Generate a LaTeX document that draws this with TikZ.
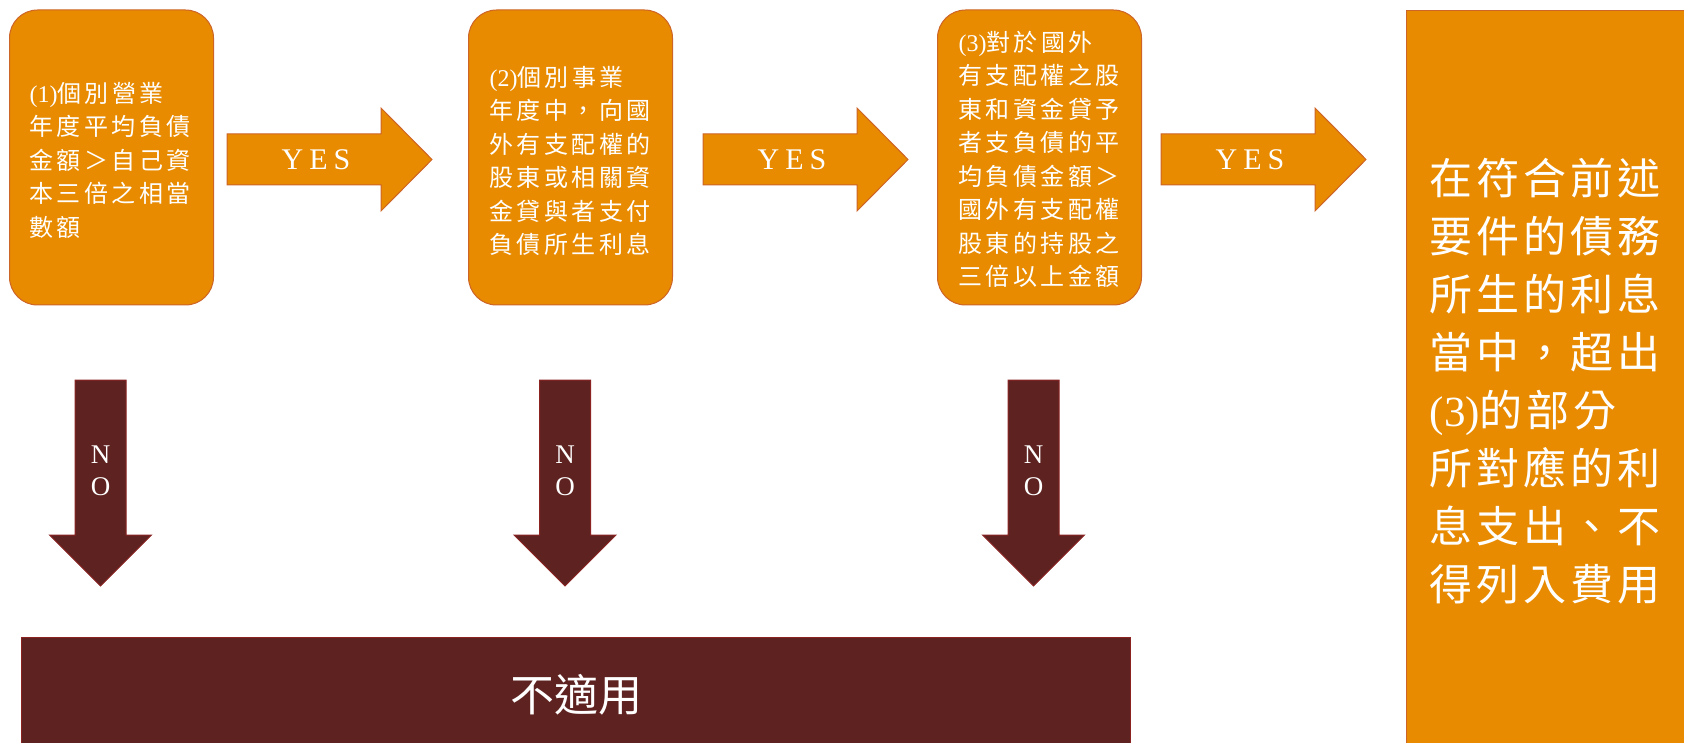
\documentclass[tikz,border=0pt]{standalone}
\usepackage{fontspec}
\newfontfamily\cjkbox[LetterSpace=14]{Noto Sans CJK TC}
\newfontfamily\cjkbig[LetterSpace=9]{Noto Sans CJK TC}
\newfontfamily\cjkplain{Noto Sans CJK TC}
\newfontfamily\latser{Liberation Serif}
\definecolor{ofill}{RGB}{232,139,0}
\definecolor{oline}{RGB}{205,100,40}
\definecolor{dfill}{RGB}{94,35,33}
\definecolor{dline}{RGB}{140,35,35}
\tikzset{
  obox/.style={draw=oline, fill=ofill, line width=1pt, rounded corners=28pt, inner sep=0pt,
    minimum width=204pt, minimum height=295pt},
  boxtext/.style={text=white, align=left, inner sep=0pt, font=\cjkbox\fontsize{24}{33.5}\selectfont},
  bigtext/.style={text=white, align=left, inner sep=0pt, font=\cjkbig\fontsize{43}{58}\selectfont},
  yeslabel/.style={text=white, inner sep=0pt, font=\latser\fontsize{30}{30}\selectfont},
  nolabel/.style={text=white, inner sep=0pt, align=center, font=\latser\fontsize{27}{32}\selectfont},
  yesarrow/.pic={
    \fill[fill=ofill, draw=oline, line width=1pt] (0,-25.5) -- (154,-25.5) -- (154,-51.5) -- (205,0)
      -- (154,51.5) -- (154,25.5) -- (0,25.5) -- cycle;
    \node[yeslabel] (-label) at (89,0) {Y\hspace{6pt}E\hspace{6pt}S};
  },
  noarrow/.pic={
    \fill[fill=dfill, draw=dline, line width=1pt] (-25.5,0) -- (25.5,0) -- (25.5,155) -- (51,155)
      -- (0,206) -- (-51,155) -- (-25.5,155) -- cycle;
    \node[nolabel] (-label) at (0,91) {N\\O};
  }
}
\begin{document}
\begin{tikzpicture}[x=1pt,y=-1pt]
\useasboundingbox (0,0) rectangle (1684,743);
% condition boxes
\node[obox] (b1) at (111.5,157.5) {};
\node[boxtext] (t1) at (110,160) {{\latser (1)}個別營業\\年度平均負債\\金額＞自己資\\本三倍之相當\\數額};
\node[obox] (b2) at (570.5,157.5) {};
\node[boxtext] (t2) at (570,161) {{\latser (2)}個別事業\\年度中，向國\\外有支配權的\\股東或相關資\\金貸與者支付\\負債所生利息};
\node[obox] (b3) at (1039.5,157.5) {};
\node[boxtext] (t3) at (1039,159.5) {{\latser (3)}對於國外\\有支配權之股\\東和資金貸予\\者支負債的平\\均負債金額＞\\國外有支配權\\股東的持股之\\三倍以上金額};
% result box
\node[draw=oline, fill=ofill, line width=1pt, minimum width=282pt, minimum height=745pt,
  inner sep=0pt, anchor=north west] (res) at (1406,10) {};
\node[bigtext] (rt) at (1545,381) {在符合前述\\要件的債務\\所生的利息\\當中，超出\\{\latser (3)}的部分\\所對應的利\\息支出、不\\得列入費用};
% not applicable bar
\node[draw=dline, fill=dfill, line width=1pt, minimum width=1109pt, minimum height=114pt,
  inner sep=0pt, anchor=north west, text=white, font=\cjkplain\fontsize{44}{44}\selectfont] (na) at (21,637) {不適用};
% YES arrows
\pic (y1) at (227,159.5) {yesarrow};
\pic (y2) at (703,159.5) {yesarrow};
\pic (y3) at (1161,159.5) {yesarrow};
% NO arrows
\pic (n1) at (100.5,380) {noarrow};
\pic (n2) at (565,380) {noarrow};
\pic (n3) at (1033.5,380) {noarrow};
\end{tikzpicture}
\end{document}
